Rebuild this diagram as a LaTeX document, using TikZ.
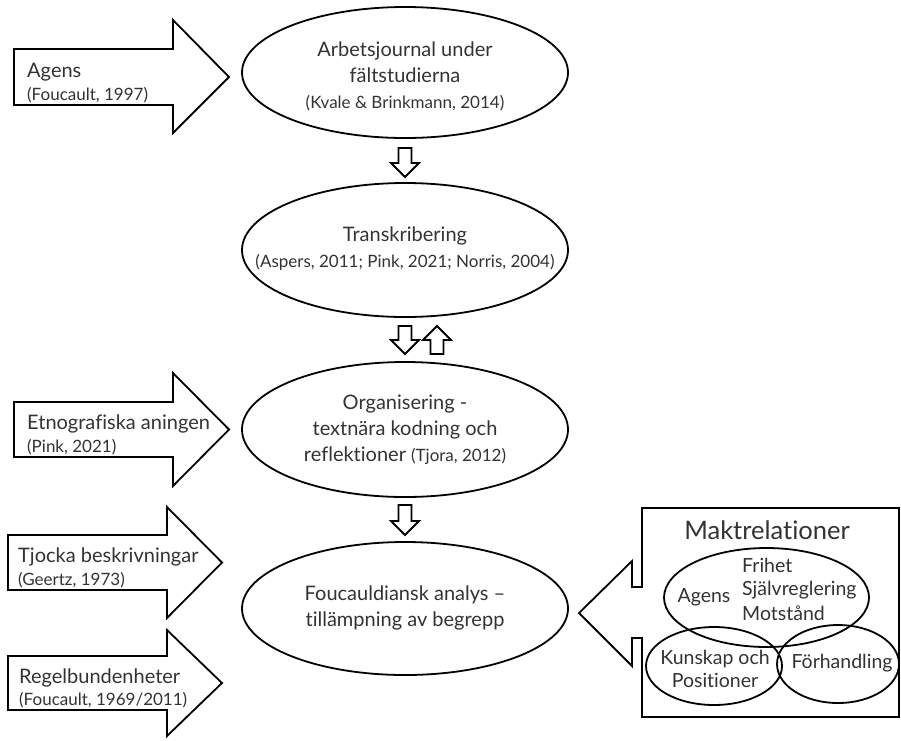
\documentclass[tikz,border=0pt]{standalone}
\usepackage{fontspec}
\setmainfont{Lato}[Ligatures=NoCommon]
\usetikzlibrary{shapes.geometric}
\definecolor{txt}{HTML}{333333}
\begin{document}
\begin{tikzpicture}[x=1pt,y=-1pt,
  outl/.style={draw=black, line width=1.8pt, line join=miter, fill=white},
  oval/.style={ellipse, draw=black, line width=1.8pt, inner sep=0pt},
  otxt/.style={inner sep=0pt, align=center, text=txt, font=\fontsize{20}{26}\selectfont},
  lbl/.style={anchor=west, inner sep=0pt, text=txt, font=\fontsize{20}{23}\selectfont},
  cit/.style={anchor=west, inner sep=0pt, text=txt, font=\fontsize{17}{18}\selectfont},
  venn/.style={ellipse, draw=black, line width=1.8pt, inner sep=0pt},
  vtxt/.style={inner sep=0pt, text=txt, font=\fontsize{19.5}{23}\selectfont, align=center},
  vtxtl/.style={inner sep=0pt, text=txt, font=\fontsize{19.5}{23}\selectfont, anchor=west}]
\useasboundingbox (0,0) rectangle (901,740);
\newcommand{\smallcite}[1]{{\fontsize{17}{26}\selectfont #1}}
% big left arrows
\draw[outl] (14,49) -- (173,49) -- (173,20) -- (229,77) -- (173,133) -- (173,105) -- (14,105) -- cycle;
\draw[outl] (14,402) -- (173,402) -- (173,373) -- (229,429.5) -- (173,486) -- (173,457) -- (14,457) -- cycle;
\draw[outl] (8,535) -- (167,535) -- (167,507) -- (222,562.5) -- (167,618) -- (167,590) -- (8,590) -- cycle;
\draw[outl] (8,656) -- (167,656) -- (167,630) -- (222,683) -- (167,736) -- (167,710) -- (8,710) -- cycle;
\node[lbl] (a1) at (27,72) {Agens};
\node[cit] (a1c) at (27,95) {(Foucault, 1997)};
\node[lbl] (a2) at (27,424) {Etnografiska aningen};
\node[cit] (a2c) at (27,447) {(Pink, 2021)};
\node[lbl] (a3) at (18,557) {Tjocka beskrivningar};
\node[cit] (a3c) at (18,580) {(Geertz, 1973)};
\node[lbl] (a4) at (19,678) {Regelbundenheter};
\node[cit] (a4c) at (19,700) {(Foucault, 1969/2011)};
% ellipses
\node[oval, minimum width=326, minimum height=131] (e1) at (405,72.5) {};
\node[otxt] (e1t) at (405,76.5) {Arbetsjournal under\\fältstudierna\\\smallcite{(Kvale \& Brinkmann, 2014)}};
\node[oval, minimum width=326, minimum height=134] (e2) at (405,250) {};
\node[otxt] (e2t) at (405,248.5) {Transkribering\\\smallcite{(Aspers, 2011; Pink, 2021; Norris, 2004)}};
\node[oval, minimum width=326, minimum height=135] (e3) at (405,429.5) {};
\node[otxt] (e3t) at (405,430) {Organisering -\\textnära kodning och\\reflektioner \smallcite{(Tjora, 2012)}};
\node[oval, minimum width=326, minimum height=133] (e4) at (405,608.5) {};
\node[otxt] (e4t) at (405,607.5) {Foucauldiansk analys –\\tillämpning av begrepp};
% small block arrows
\draw[outl] (398.5,148) -- (411.5,148) -- (411.5,163) -- (419,163) -- (405,177) -- (391,163) -- (398.5,163) -- cycle;
\draw[outl] (398.5,326) -- (411.5,326) -- (411.5,340) -- (419,340) -- (405,354) -- (391,340) -- (398.5,340) -- cycle;
\draw[outl] (430.5,354) -- (443.5,354) -- (443.5,340) -- (451,340) -- (437,326) -- (423,340) -- (430.5,340) -- cycle;
\draw[outl] (398.5,505) -- (411.5,505) -- (411.5,521) -- (419,521) -- (405,535) -- (391,521) -- (398.5,521) -- cycle;
% callout
\draw[outl] (642,508) -- (899,508) -- (899,717) -- (642,717) -- (642,638) -- (632,638) -- (632,666) -- (579,613) -- (632,561) -- (632,587) -- (642,587) -- cycle;
\node[inner sep=0pt, text=txt, font=\fontsize{25.5}{28}\selectfont] (mk) at (767,530) {Maktrelationer};
\node[venn, minimum width=205, minimum height=99] (v1) at (766.5,597.5) {};
\node[venn, minimum width=136, minimum height=78] (v2) at (714,666) {};
\node[venn, minimum width=122, minimum height=78] (v3) at (838,664) {};
\node[vtxt] (t1) at (704,597) {Agens};
\node[vtxtl] (t2) at (742,565) {Frihet};
\node[vtxtl] (t3) at (742,590) {Självreglering};
\node[vtxtl] (t4) at (742,613) {Motstånd};
\node[vtxt] (t5) at (715,668.5) {Kunskap och\\Positioner};
\node[vtxt] (t6) at (842,663) {Förhandling};
\end{tikzpicture}
\end{document}
